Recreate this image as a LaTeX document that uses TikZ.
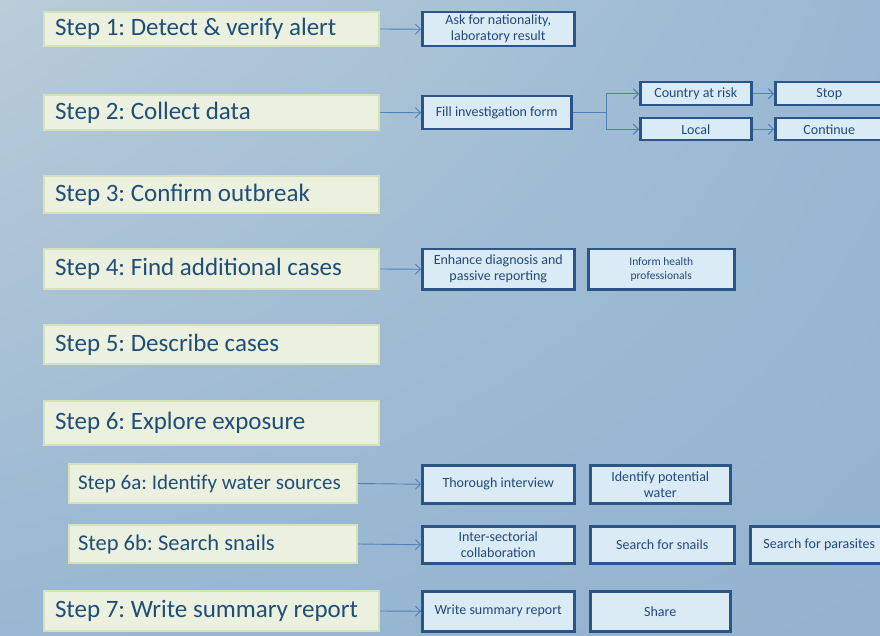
\documentclass[tikz,border=0pt]{standalone}
\usepackage{fontspec}
\setmainfont{Carlito}
\frenchspacing
\usetikzlibrary{arrows.meta,shadings}
\definecolor{bgA}{HTML}{BACCD8}
\definecolor{bgB}{HTML}{98B8D3}
\definecolor{bgC}{HTML}{98B7D2}
\definecolor{bgD}{HTML}{93B3D0}
\definecolor{stepfill}{HTML}{EBF1DE}
\definecolor{stepedge}{HTML}{D5E1B6}
\definecolor{steptext}{HTML}{1F4E79}
\definecolor{actfill}{HTML}{DBEBF5}
\definecolor{actedge}{HTML}{2B5589}
\definecolor{acttext}{HTML}{1F497D}
\definecolor{link}{HTML}{4F81BD}
\begin{document}
\begin{tikzpicture}[x=1pt,y=-1pt,
  stepbox/.style={draw=stepedge, line width=2pt, fill=stepfill, anchor=north west,
    inner xsep=11pt, inner ysep=0pt, align=flush left,
    font=\fontsize{25}{27}\selectfont, text=steptext},
  substep/.style={stepbox, inner xsep=9pt, font=\fontsize{21}{23}\selectfont},
  actbox/.style={draw=actedge, line width=2.5pt, fill=actfill, anchor=north west,
    inner sep=1pt, align=center, font=\fontsize{14}{16}\selectfont, text=acttext},
  smallact/.style={actbox, font=\fontsize{11.5}{13.5}\selectfont},
  flow/.style={draw=link, line width=0.9pt, -{Straight Barb[length=5pt,width=10pt]}}]

% background
\useasboundingbox (0,0) rectangle (880,636);
\shade[upper left=bgA, upper right=bgB, lower left=bgC, lower right=bgD]
  (0,0) rectangle (880,636);
\clip (0,0) rectangle (880,636);

% steps
\node[stepbox, text width=313pt, minimum height=34pt] (s1) at (43,11) {Step 1: Detect \& verify alert};
\node[stepbox, text width=313pt, minimum height=35pt] (s2) at (43,94) {Step 2: Collect data};
\node[stepbox, text width=313pt, minimum height=37pt] (s3) at (43,175) {Step 3: Confirm outbreak};
\node[stepbox, text width=313pt, minimum height=40pt] (s4) at (43,248) {Step 4: Find additional cases};
\node[stepbox, text width=313pt, minimum height=39pt] (s5) at (43,324) {Step 5: Describe cases};
\node[stepbox, text width=313pt, minimum height=44pt] (s6) at (43,400) {Step 6: Explore exposure};
\node[substep, text width=270pt, minimum height=39pt] (s6a) at (68,463) {Step 6a: Identify water sources};
\node[substep, text width=270pt, minimum height=38pt, font=\fontsize{22.5}{24}\selectfont] (s6b) at (68,524) {Step 6b: Search snails};
\node[stepbox, text width=313pt, minimum height=40pt] (s7) at (43,590) {Step 7: Write summary report};

% actions
\node[actbox, minimum width=152pt, minimum height=34pt] (a1) at (421,11) {Ask for nationality,\\laboratory result};
\node[actbox, minimum width=149pt, minimum height=33pt] (a2) at (421,95) {Fill investigation form};
\node[actbox, minimum width=111pt, minimum height=23pt] (risk) at (639,81) {Country at risk};
\node[actbox, minimum width=111pt, minimum height=22pt] (local) at (639,117) {Local};
\node[actbox, minimum width=108pt, minimum height=23pt] (stop) at (774,81) {Stop};
\node[actbox, minimum width=108pt, minimum height=22pt] (cont) at (774,117) {Continue};
\node[actbox, minimum width=152pt, minimum height=40pt] (a4) at (421,248) {Enhance diagnosis and\\passive reporting};
\node[smallact, minimum width=146pt, minimum height=40pt] (a4b) at (587,248) {Inform health\\professionals};
\node[actbox, minimum width=152pt, minimum height=38pt] (a6a) at (421,464) {Thorough interview};
\node[actbox, minimum width=140pt, minimum height=38pt] (a6ab) at (589,464) {Identify potential\\water};
\node[actbox, minimum width=152pt, minimum height=37pt] (a6b) at (421,525) {Inter-sectorial\\collaboration};
\node[actbox, minimum width=144pt, minimum height=37pt] (a6bb) at (589,525) {Search for snails};
\node[actbox, minimum width=138pt, minimum height=37pt] (a6bc) at (749,525) {Search for parasites};
\node[actbox, minimum width=152pt, minimum height=40pt] (a7) at (421,590) {Write summary report};
\node[actbox, minimum width=140pt, minimum height=40pt] (a7b) at (589,590) {Share};

% connectors
\draw[flow] (s1.east) -- (a1.west);
\draw[flow] (s2.east) -- (a2.west);
\coordinate (fork) at ([xshift=34pt]a2.east);
\draw[flow] (a2.east) -- (fork) |- (risk.west);
\draw[flow] (fork) |- (local.west);
\draw[flow] (risk.east) -- (stop.west);
\draw[flow] (local.east) -- (cont.west);
\draw[flow] (s4.east) -- (a4.west);
\draw[flow] (s6a.east) -- (a6a.west);
\draw[flow] (s6b.east) -- (a6b.west);
\draw[flow] (s7.east) -- (a7.west);
\end{tikzpicture}
\end{document}
